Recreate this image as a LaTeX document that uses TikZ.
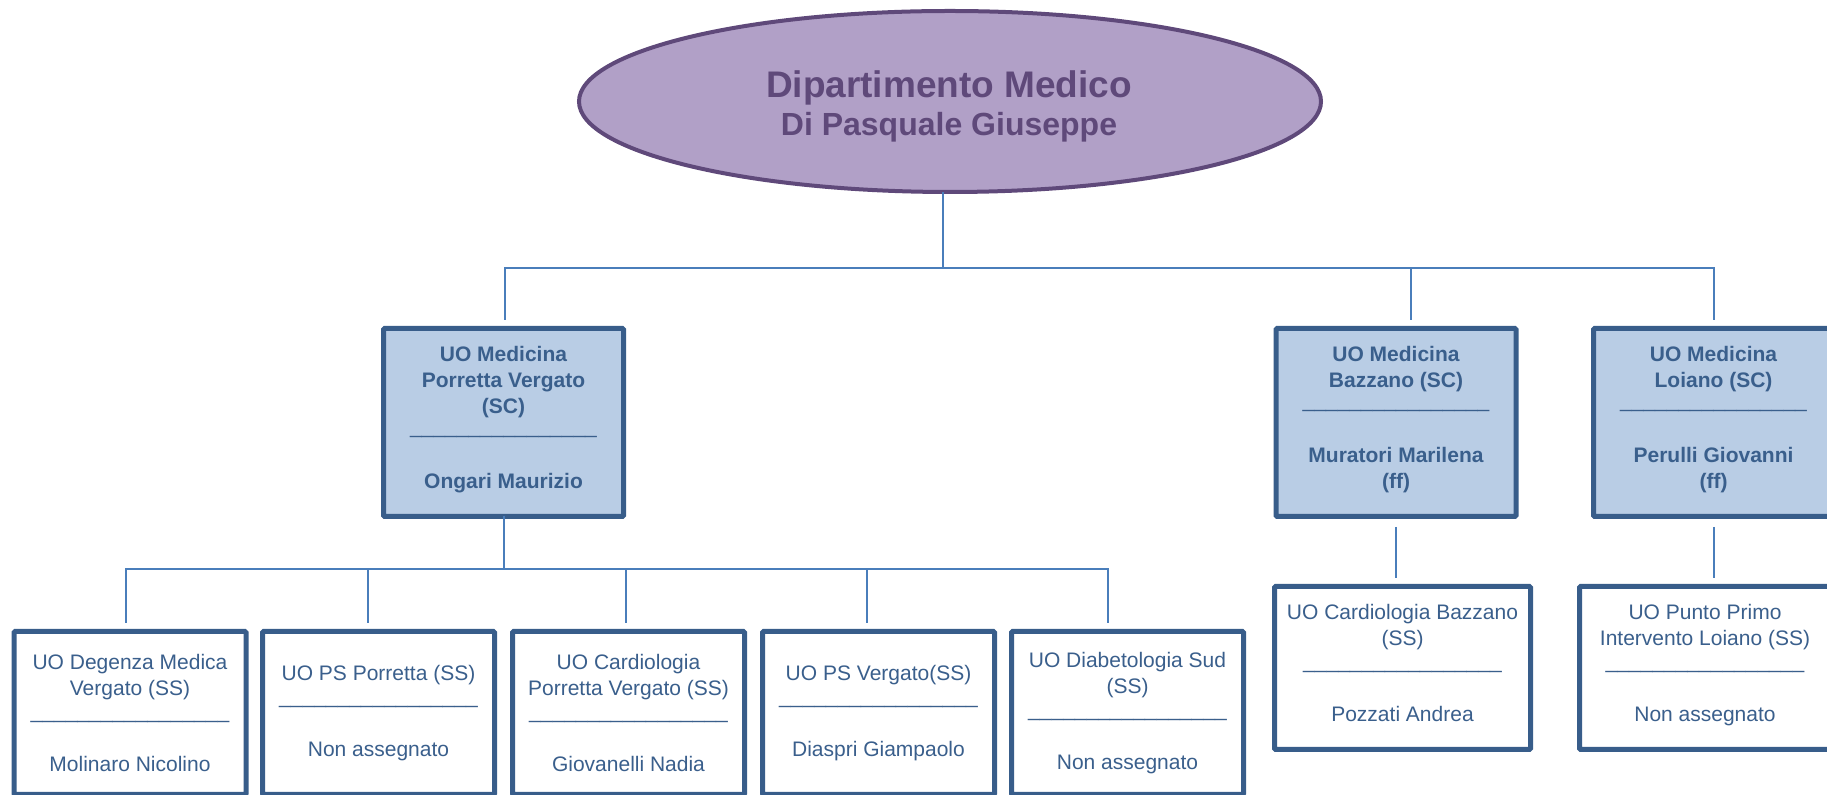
\documentclass[tikz,border=0pt]{standalone}
\usepackage{fontspec}
\setmainfont{Liberation Sans}
\usetikzlibrary{shapes.geometric}
\definecolor{ellfill}{HTML}{B1A0C7}
\definecolor{elldraw}{HTML}{5F497A}
\definecolor{boxfill}{HTML}{B9CDE5}
\definecolor{boxdraw}{HTML}{385D8A}
\definecolor{boxtext}{HTML}{3A5F8C}
\definecolor{connc}{HTML}{4A7EBB}
\newcommand\rulea{{\mdseries\_\_\_\_\_\_\_\_\_\_\_\_\_\_\_\_}}
\newcommand\ruleb{{\mdseries\_\_\_\_\_\_\_\_\_\_\_\_\_\_\_\_\_}}
\newcommand\lowstrut{\rule[-5.2pt]{0pt}{0pt}}
\begin{document}
\begin{tikzpicture}[x=0.5pt,y=-0.5pt,
  deptshape/.style={ellipse, draw=elldraw, fill=ellfill, line width=2pt,
    minimum width=371pt, minimum height=90.5pt, inner sep=0pt, outer sep=0pt},
  depttext/.style={text=elldraw, font=\bfseries\fontsize{18.5}{19}\selectfont,
    align=center, inner sep=0pt},
  unitbox/.style={rectangle, draw=boxdraw, fill=boxfill, line width=2.5pt,
    rounded corners=0.6pt, minimum width=120pt, minimum height=94pt,
    inner sep=0pt, outer sep=0pt, text=boxtext,
    font=\bfseries\fontsize{10.5}{13}\selectfont, align=center},
  subbox/.style={rectangle, draw=boxdraw, fill=white, line width=2.5pt,
    rounded corners=0.6pt, minimum width=116pt, minimum height=81.5pt,
    inner sep=0pt, outer sep=0pt, text=boxtext,
    font=\fontsize{10.5}{13}\selectfont, align=center},
  conn/.style={draw=connc, line width=1.3pt}]
\useasboundingbox (0,0) rectangle (1827,795);

% department
\node[deptshape] (dept) at (950,101.5) {};
\node[depttext] (depttitle) at (949,106)
  {Dipartimento Medico\\{\fontsize{16}{19}\selectfont Di Pasquale Giuseppe}};

% top units
\node[unitbox] (pv) at (503.5,422.5)
  {UO Medicina\\Porretta Vergato\\(SC)\\[-3pt]\rulea\\[14.5pt]Ongari Maurizio\lowstrut};
\node[unitbox] (bz) at (1396,422.5)
  {UO Medicina\\Bazzano (SC)\\[-3pt]\rulea\\[14.5pt]Muratori Marilena\\(ff)\lowstrut};
\node[unitbox] (lo) at (1713.5,422.5)
  {UO Medicina\\Loiano (SC)\\[-3pt]\rulea\\[14.5pt]Perulli Giovanni\\(ff)\lowstrut};

% Porretta sub-units
\node[subbox] (deg) at (130,713)
  {UO Degenza Medica\\Vergato (SS)\\[-1.5pt]\ruleb\\[13.5pt]Molinaro Nicolino};
\node[subbox] (psp) at (378.5,713)
  {UO PS Porretta (SS)\\[-1.5pt]\ruleb\\[13.5pt]Non assegnato};
\node[subbox] (card) at (628.5,713)
  {UO Cardiologia\\Porretta Vergato (SS)\\[-1.5pt]\ruleb\\[13.5pt]Giovanelli Nadia};
\node[subbox] (psv) at (878.5,713)
  {UO PS Vergato(SS)\\[-1.5pt]\ruleb\\[13.5pt]Diaspri Giampaolo};
\node[subbox] (diab) at (1127.5,713)
  {UO Diabetologia Sud\\(SS)\\[-1.5pt]\ruleb\\[13.5pt]Non assegnato};

% Bazzano / Loiano sub-units
\node[subbox, minimum width=128pt] (bzs) at (1402.5,668)
  {UO Cardiologia Bazzano\\(SS)\\[-1.5pt]\ruleb\\[13.5pt]Pozzati Andrea\lowstrut};
\node[subbox, minimum width=125.5pt] (los) at (1705,668)
  {UO Punto Primo\\Intervento Loiano (SS)\\[-1.5pt]\ruleb\\[13.5pt]Non assegnato\lowstrut};

% connectors: department level
\coordinate (j0) at (943,268);
\coordinate (dPV) at (505,320);
\coordinate (dBZ) at (1411,320);
\coordinate (dLO) at (1714,320);
\draw[conn] (j0 |- dept.south) -- (j0);
\draw[conn] (dPV) -- (dPV |- j0) -- (dLO |- j0) -- (dLO);
\draw[conn] (dBZ |- j0) -- (dBZ);

% connectors: Porretta level
\coordinate (j1) at (504,569);
\coordinate (c1) at (126,623);
\coordinate (c2) at (368,623);
\coordinate (c3) at (626,623);
\coordinate (c4) at (867,623);
\coordinate (c5) at (1108,623);
\draw[conn] (j1 |- pv.south) -- (j1);
\draw[conn] (c1) -- (c1 |- j1) -- (c5 |- j1) -- (c5);
\draw[conn] (c2 |- j1) -- (c2);
\draw[conn] (c3 |- j1) -- (c3);
\draw[conn] (c4 |- j1) -- (c4);

% connectors: Bazzano and Loiano
\coordinate (bzA) at (1396,527);
\coordinate (bzB) at (1396,578);
\coordinate (loA) at (1714,527);
\coordinate (loB) at (1714,578);
\draw[conn] (bzA) -- (bzB);
\draw[conn] (loA) -- (loB);
\end{tikzpicture}
\end{document}
